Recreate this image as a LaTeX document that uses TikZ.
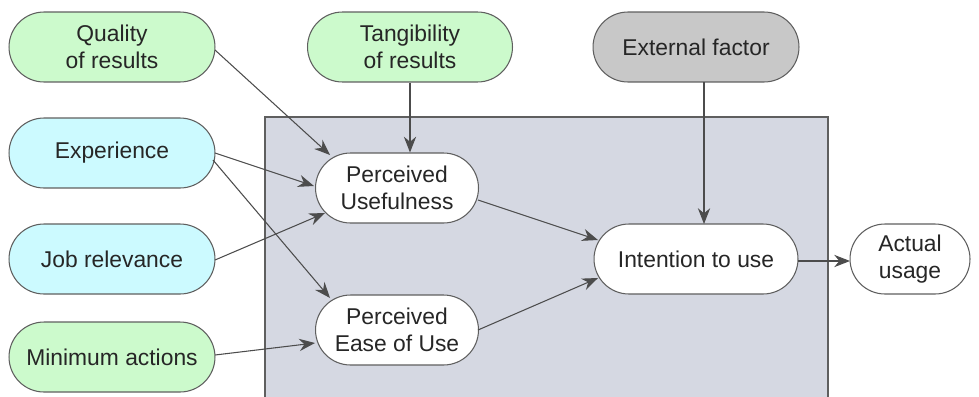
\documentclass[tikz,border=0pt]{standalone}
\usepackage{fontspec}
\setmainfont{Liberation Sans}
\usetikzlibrary{arrows.meta}
\definecolor{lgreen}{RGB}{204,250,204}
\definecolor{lcyan}{RGB}{204,250,255}
\definecolor{egray}{RGB}{200,200,200}
\definecolor{boxgray}{RGB}{213,216,226}
\definecolor{edgegray}{RGB}{95,95,95}
\tikzset{
  pill/.style={draw=edgegray, line width=0.6pt, rounded corners=0.7cm, minimum height=1.4cm,
    align=center, inner sep=0pt, font=\fontsize{13}{15.5}\selectfont, text=black!85},
  arr/.style={draw=black!70, line width=0.6pt, -{Stealth[length=9pt,width=7pt]}}
}
\begin{document}
\begin{tikzpicture}[x=0.02cm,y=-0.02cm]
\useasboundingbox (0,0) rectangle (979,396);
\begin{scope}
\clip (0,0) rectangle (979,396);
\draw[draw=edgegray, fill=boxgray, line width=0.6pt] (265,117) rectangle (828,420);
\end{scope}
\node[pill, fill=lgreen, minimum width=4.12cm] (qual) at (112,47) {Quality\\of results};
\node[pill, fill=lgreen, minimum width=4.1cm] (tang) at (410,47) {Tangibility\\of results};
\node[pill, fill=egray, minimum width=4.12cm] (ext) at (696,47) {External factor};
\node[pill, fill=lcyan, minimum width=4.12cm] (exp) at (112,153) {Experience};
\node[pill, fill=lcyan, minimum width=4.12cm] (job) at (112,259) {Job relevance};
\node[pill, fill=lgreen, minimum width=4.12cm] (min) at (112,357) {Minimum actions};
\node[pill, fill=white, minimum width=3.26cm] (pu) at (397,188) {Perceived\\Usefulness};
\node[pill, fill=white, minimum width=3.26cm] (peou) at (397,330) {Perceived\\Ease of Use};
\node[pill, fill=white, minimum width=4.08cm] (int) at (696,259) {Intention to use};
\node[pill, fill=white, minimum width=2.4cm] (act) at (910,259) {Actual\\usage};
\coordinate (qs) at (215,50);
\coordinate (qe) at (330,155);
\draw[arr] (qs) -- (qe);
\draw[arr] (tang.south) -- (pu.north -| tang.south);
\coordinate (es1) at (215,153);
\coordinate (ee1) at (314,186);
\draw[arr] (es1) -- (ee1);
\coordinate (es2) at (213,160);
\coordinate (ee2) at (330,298);
\draw[arr] (es2) -- (ee2);
\coordinate (js) at (215,260);
\coordinate (je) at (325,213);
\draw[arr] (js) -- (je);
\coordinate (ms) at (215,355);
\coordinate (me) at (315,343);
\draw[arr] (ms) -- (me);
\coordinate (ps1) at (478,200);
\coordinate (pe1) at (598,240);
\draw[arr] (ps1) -- (pe1);
\coordinate (ps2) at (478,330);
\coordinate (pe2) at (598,278);
\draw[arr] (ps2) -- (pe2);
\coordinate (xs) at (704,82);
\coordinate (xe) at (704,224);
\draw[arr] (xs) -- (xe);
\coordinate (is) at (798,261);
\coordinate (ie) at (850,261);
\draw[arr] (is) -- (ie);
\end{tikzpicture}
\end{document}
